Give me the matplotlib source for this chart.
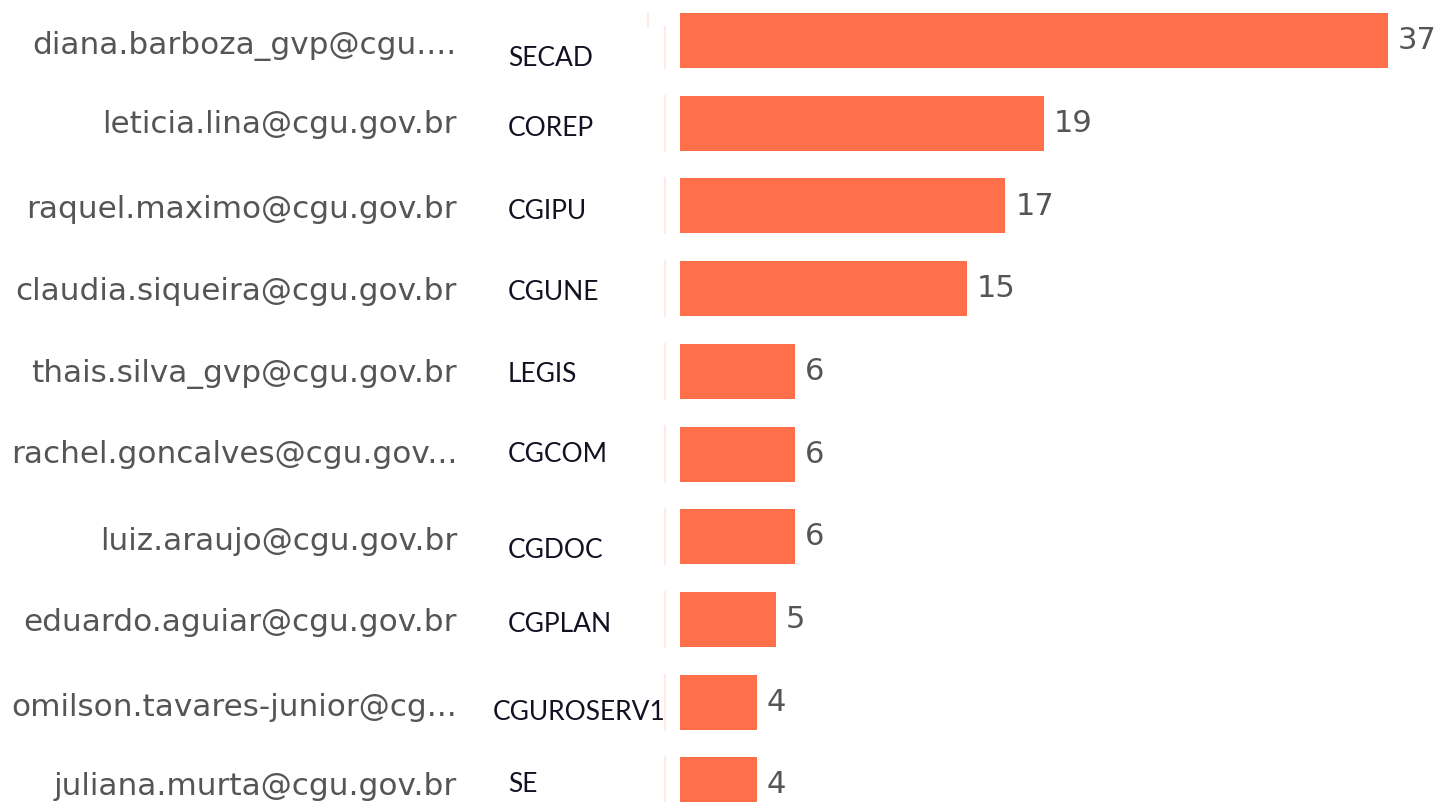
import matplotlib
matplotlib.use("Agg")
import matplotlib.pyplot as plt

# data
emails = ["diana.barboza_gvp@cgu....", "leticia.lina@cgu.gov.br",
          "raquel.maximo@cgu.gov.br", "claudia.siqueira@cgu.gov.br",
          "thais.silva_gvp@cgu.gov.br", "rachel.goncalves@cgu.gov...",
          "luiz.araujo@cgu.gov.br", "eduardo.aguiar@cgu.gov.br",
          "omilson.tavares-junior@cg...", "juliana.murta@cgu.gov.br"]
units = ["SECAD", "COREP", "CGIPU", "CGUNE", "LEGIS", "CGCOM",
         "CGDOC", "CGPLAN", "CGUROSERV1", "SE"]
counts = [37, 19, 17, 15, 6, 6, 6, 5, 4, 4]

# small vertical nudges of the labels (row units), as in the screenshot
unit_dy = [0.21, 0.05, 0.05, 0.03, 0.03, 0.0, 0.15, 0.05, 0.11, -0.01]
email_dy = [0.05, 0.0, 0.03, 0.02, 0.02, 0.0, 0.04, 0.03, 0.05, 0.01]

BAR = "#FF6F4A"
W, H = 1439, 803
PX = 19.135          # pixels per count
X0 = 680             # pixel x of zero
ROW = 82.7           # pixels per row
Y0 = 41.5            # pixel y of first row centre

fig = plt.figure(figsize=(W / 100, H / 100), dpi=100)
ax = fig.add_axes([0, 0, 1, 1])
ax.set_xlim(-X0 / PX, (W - X0) / PX)
ax.set_ylim((H - Y0) / ROW, -Y0 / ROW)
ax.axis("off")

ypos = list(range(len(counts)))
ax.barh(ypos, counts, height=55 / ROW, color=BAR)

for i, v in enumerate(counts):
    ax.text(v + 10 / PX, i - 0.01, str(v), ha="left", va="center",
            fontsize=22, color="#555555", family="DejaVu Sans")
    ax.text((457 - X0) / PX, i + email_dy[i], emails[i], ha="right",
            va="center", fontsize=22.4, color="#555555",
            family="DejaVu Sans")
    ux = 493 if units[i] == "CGUROSERV1" else 508
    ax.text((ux - X0) / PX, i + unit_dy[i], units[i], ha="left",
            va="center", fontsize=19, color="#111122", family="Lato")
    # faint separator next to each bar
    top = -0.163 if i == 0 else i - 0.333
    ax.plot([(665 - X0) / PX] * 2, [top, i + 0.333], color="#FFEBE5",
            lw=1.5)

ax.plot([(648 - X0) / PX] * 2, [-0.333, -0.163], color="#FFEBE5", lw=1.5)

fig.savefig("out.png", dpi=100)
